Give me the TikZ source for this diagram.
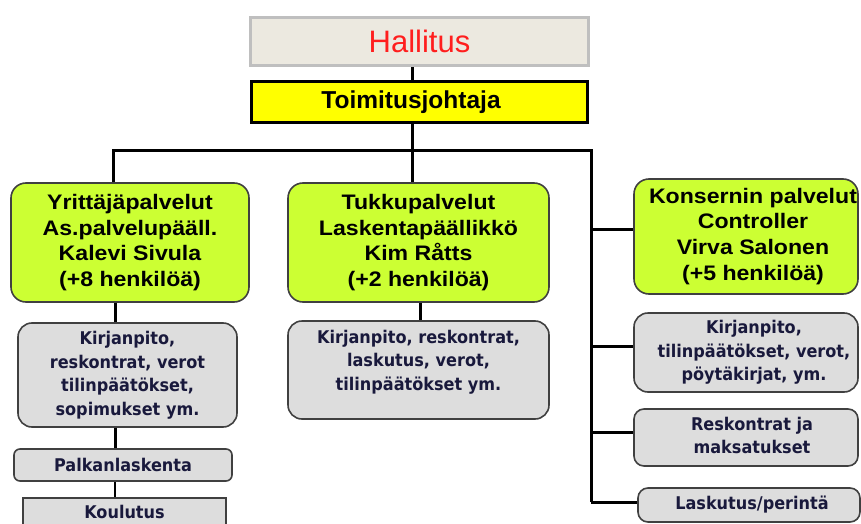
\documentclass[tikz,border=0pt]{standalone}
\usepackage{fontspec}
\setmainfont{Liberation Sans}
\newfontfamily\greenfont{Liberation Sans}[FakeStretch=1.1]
\newfontfamily\greyfont{DejaVu Sans}[FakeStretch=0.92]
\definecolor{hallfill}{RGB}{236,233,224}
\definecolor{hallline}{RGB}{191,191,191}
\definecolor{hallred}{RGB}{255,30,30}
\definecolor{yfill}{RGB}{255,255,0}
\definecolor{gfill}{RGB}{204,255,51}
\definecolor{greyfill}{RGB}{221,221,221}
\definecolor{boxline}{RGB}{64,64,64}
\definecolor{navytext}{RGB}{25,25,60}
\newcommand{\txtblk}[1]{\begin{tabular}{@{}c@{}}#1\end{tabular}}
\begin{document}
\begin{tikzpicture}[x=1pt,y=-1pt,
  conn/.style={line width=3pt},
  hallbox/.style={draw=hallline, line width=3pt, fill=hallfill, inner sep=0pt, text=hallred, font=\fontsize{31}{36}\selectfont},
  ceobox/.style={draw=black, line width=3pt, fill=yfill, inner sep=0pt, font=\bfseries\fontsize{24.5}{28}\selectfont},
  unitbox/.style={draw=boxline, line width=1.6pt, fill=gfill, rounded corners=15pt, inner sep=0pt, align=center, font=\greenfont\bfseries\fontsize{21}{25.7}\selectfont},
  taskbox/.style={draw=boxline, line width=1.6pt, fill=greyfill, rounded corners=14pt, inner sep=0pt, align=center, text=navytext, font=\greyfont\bfseries\fontsize{17.5}{23.5}\selectfont},
]
\useasboundingbox (0,0) rectangle (861,524);
\clip (0,0) rectangle (861,524);

\node[hallbox, minimum width=338pt, minimum height=48pt] (hall) at (419.5,41.5) {Hallitus};
\node[ceobox, minimum width=336pt, minimum height=41pt] (ceo) at (419.5,102) {Toimitusjohtaja\hspace*{17pt}};

\node[unitbox, minimum width=238pt, minimum height=119pt] (unit1) at (130,242.5) {Yrittäjäpalvelut\\As.palvelupääll.\\Kalevi Sivula\\(+8 henkilöä)};
\node[unitbox, minimum width=261pt, minimum height=119pt] (unit2) at (418.5,242.5) {Tukkupalvelut\\Laskentapäällikkö\\Kim Råtts\\(+2 henkilöä)};
\node[unitbox, minimum width=224pt, minimum height=115pt] (unit3) at (746,236.5) {\hspace*{14pt}\txtblk{Konsernin palvelut\\Controller\\Virva Salonen\\(+5 henkilöä)}};

\node[taskbox, minimum width=219pt, minimum height=104pt] (task1) at (127.5,375) {Kirjanpito,\\reskontrat, verot\\tilinpäätökset,\\sopimukset ym.};
\node[taskbox, rounded corners=6pt, minimum width=218pt, minimum height=32pt] (palk) at (123,465) {Palkanlaskenta};
\node[taskbox, rounded corners=0pt, minimum width=203pt, minimum height=28pt] (koul) at (124.5,512) {Koulutus};

\node[taskbox, minimum width=261pt, minimum height=98pt] (task2) at (418.5,370) {\raisebox{8pt}[\height][\depth]{\txtblk{Kirjanpito, reskontrat,\\laskutus, verot,\\tilinpäätökset ym.}}};

\node[taskbox, minimum width=224pt, minimum height=79pt] (rtask1) at (746,352.5) {\hspace*{16pt}\txtblk{Kirjanpito,\\tilinpäätökset, verot,\\pöytäkirjat, ym.}};
\node[taskbox, rounded corners=10pt, minimum width=224pt, minimum height=57pt] (rtask2) at (746,437.5) {\hspace*{12pt}\txtblk{Reskontrat ja\\maksatukset}};
\node[taskbox, rounded corners=10pt, minimum width=222pt, minimum height=34pt] (rtask3) at (749,505) {\hspace*{6pt}Laskutus/perintä};

\coordinate (cx) at (412,150);
\coordinate (lx) at (113,150);
\coordinate (rx) at (591,150);
\coordinate (rbot) at (591,502);
\coordinate (lc) at (115,0);
\coordinate (mc) at (420,0);
\coordinate (r1) at (591,229);
\coordinate (r2) at (591,346);
\coordinate (r3) at (591,432);
\coordinate (r4) at (591,502);

\draw[conn] (hall.south -| cx) -- (ceo.north -| cx);
\draw[conn] (ceo.south -| cx) -- (unit2.north -| cx);
\draw[conn] (unit1.north -| lx) -- (lx) -- (rx) -- (rbot);
\draw[conn] (r1) -- (r1 -| unit3.west);
\draw[conn] (r2) -- (r2 -| rtask1.west);
\draw[conn] (r3) -- (r3 -| rtask2.west);
\draw[conn] (r4) -- (r4 -| rtask3.west);
\draw[conn] (unit1.south -| lc) -- (task1.north -| lc);
\draw[conn] (task1.south -| lc) -- (palk.north -| lc);
\draw[conn, line width=2pt] (palk.south -| lc) -- (koul.north -| lc);
\draw[conn] (unit2.south -| mc) -- (task2.north -| mc);
\end{tikzpicture}
\end{document}
